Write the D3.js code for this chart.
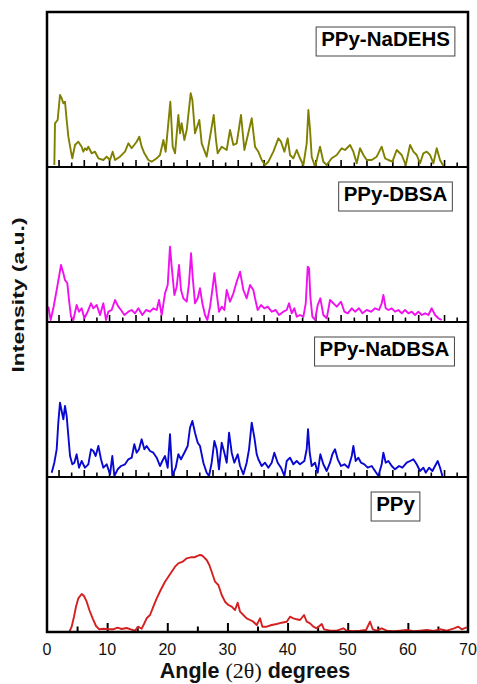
<!DOCTYPE html>
<html><head><meta charset="utf-8">
<script src="https://cdn.jsdelivr.net/npm/d3@7"></script>
<style>body{margin:0;background:#fff}</style>
</head><body>
<svg id="chart" width="477" height="684"></svg>
<script>
// ---------------- DATA ----------------
const seriesNames = ["PPy-NaDEHS", "PPy-DBSA", "PPy-NaDBSA", "PPy"];

// [2θ (deg), intensity (a.u.)]
const ppyNaDEHS = [[1.22,2],[1.33,43.7],[1.77,47],[2.16,72],[2.44,68.7],[2.72,63.7],[2.99,65.3],[3.27,47],[3.55,30.3],[3.99,15.3],[4.21,8.7],[4.66,22],[5.21,25.3],[5.76,20.3],[6.04,15.3],[6.32,18.7],[6.6,17],[6.87,20.3],[7.43,13.7],[7.98,15.3],[8.54,8.7],[9.37,7],[9.92,10.3],[10.48,7],[10.92,15.3],[11.31,7],[12.14,10.3],[12.97,15.3],[13.53,23.7],[14.08,18.7],[14.91,25.3],[15.35,30.3],[15.74,20.3],[16.19,13.7],[16.85,7],[17.41,5.3],[18.24,8.7],[18.79,12],[19.35,27],[19.73,15.3],[20.51,65.3],[20.9,20.3],[21.29,13.7],[21.84,52],[22.12,33.7],[22.39,43.7],[22.84,27],[23.23,37],[23.89,73.7],[24.17,67],[24.61,33.7],[25.33,47],[25.72,23.7],[26.55,10.3],[27.72,52],[28.1,27],[28.38,13.7],[29.05,20.3],[29.88,17],[30.43,37],[30.99,22],[31.54,23.7],[32.26,52],[32.82,17],[34.04,48.7],[34.59,20.3],[35.14,15.3],[35.7,7],[36.25,2],[36.81,5.3],[37.64,15.3],[38.47,28.7],[38.91,25.3],[39.47,15.3],[40.02,28.7],[40.41,12],[40.96,8.7],[41.52,17],[42.07,8.7],[42.63,2],[43.18,23.7],[43.46,57],[43.74,37],[44.01,10.3],[44.57,0.3],[45.4,20.3],[45.95,5.3],[46.51,2],[47.34,8.7],[48.17,12],[49.0,18.7],[49.56,17],[50.39,22],[50.94,15.3],[51.5,3.7],[52.05,18.7],[52.61,12],[53.16,7],[53.99,7],[54.82,10.3],[55.65,20.3],[56.21,8.7],[56.76,7],[57.43,5.3],[58.15,17],[58.98,12],[59.65,2],[60.37,22],[60.92,15.3],[61.47,12],[62.03,3.7],[62.58,13.7],[63.14,15.3],[63.69,12],[64.25,3.7],[64.8,18.7],[65.35,7],[65.91,1]];

const ppyDBSA = [[0.22,15.3],[0.61,2],[1.05,13.7],[1.61,32],[2.0,45.3],[2.33,57],[2.72,48.7],[2.99,42],[3.38,38.7],[3.66,22],[3.99,5.3],[4.38,2],[4.93,17],[5.32,10.3],[5.76,13.7],[6.21,3.7],[6.76,10.3],[7.32,18.7],[7.71,13.7],[8.26,17],[8.82,7],[9.37,18.7],[9.81,2],[10.2,10.3],[10.75,12],[11.31,22],[11.86,15.3],[12.31,12],[12.86,7],[13.53,10.3],[14.08,12],[14.63,8.7],[15.19,13.7],[15.85,7],[16.46,12],[17.13,10.3],[17.68,13.7],[18.24,12],[18.63,22],[19.07,7],[19.62,28.7],[20.07,37],[20.45,75.3],[20.73,55.3],[21.18,27],[21.57,35.3],[21.95,57],[22.28,32],[22.67,23.7],[23.23,20.3],[23.61,38.7],[23.95,68.7],[24.22,45.3],[24.61,18.7],[25.06,23.7],[25.44,33.7],[25.83,18.7],[26.27,7],[26.66,2],[27.11,15.3],[27.49,32],[27.83,48.7],[28.22,28.7],[28.6,10.3],[29.05,15.3],[29.49,12],[29.88,32],[30.43,20.3],[30.99,28.7],[31.54,40.3],[32.1,50.3],[32.65,32],[33.2,23.7],[33.76,37],[34.31,32],[34.59,23.7],[35.03,12],[35.59,17],[36.14,13.7],[36.7,15.3],[37.36,10.3],[38.03,12],[38.58,7],[39.3,10.3],[39.86,12],[40.24,18.7],[40.69,8.7],[41.13,13.7],[41.52,5.3],[42.07,7],[42.63,5.3],[43.02,18.7],[43.35,55.3],[43.57,53.7],[43.79,25.3],[44.12,5.3],[44.57,2],[45.01,17],[45.45,23.7],[45.95,7],[46.51,3.7],[47.06,22],[47.62,18.7],[48.17,15.3],[48.89,20.3],[49.45,10.3],[50.0,8.7],[50.67,13.7],[51.22,10.3],[51.88,13.7],[52.44,8.7],[53.16,12],[53.88,10.3],[54.55,13.7],[55.2,12],[55.65,18.7],[55.93,27],[56.32,13.7],[56.76,12],[57.32,13.7],[57.87,10.3],[58.43,12],[58.98,8.7],[59.53,12],[60.09,8.7],[60.64,10.3],[61.2,7],[61.75,10.3],[62.31,7],[62.86,8.7],[63.41,7],[63.97,13.7],[64.52,7],[65.08,3.7],[65.63,2]];

const ppyNaDBSA = [[0.78,4.3],[1.22,14.3],[1.61,27.7],[1.88,54.3],[2.16,74.3],[2.44,66],[2.72,57.7],[2.99,71],[3.27,61],[3.55,41],[3.83,21],[4.21,12.7],[4.55,14.3],[4.93,22.7],[5.32,9.3],[5.76,16],[6.32,9.3],[6.87,12.7],[7.32,27.7],[7.71,26],[8.09,21],[8.54,31],[8.98,17.7],[9.37,9.3],[9.92,12.7],[10.48,2.7],[10.86,21],[11.2,1],[11.75,7.7],[12.31,11],[12.97,12.7],[13.53,17.7],[14.08,19.3],[14.52,32.7],[14.91,24.3],[15.3,27.7],[15.74,37.7],[16.19,27.7],[16.57,31],[17.13,26],[17.68,24.3],[18.24,19.3],[18.79,11],[19.18,16],[19.62,21],[20.07,9.3],[20.45,42.7],[20.84,1],[21.4,9.3],[21.84,22.7],[22.28,17.7],[22.84,24.3],[23.39,31],[23.78,49.3],[24.17,56],[24.61,44.3],[25.06,34.3],[25.44,31],[26.0,14.3],[26.55,4.3],[26.94,1],[27.38,14.3],[27.83,36],[28.22,27.7],[28.6,7.7],[29.05,34.3],[29.49,24.3],[29.88,14.3],[30.27,44.3],[30.71,24.3],[31.15,14.3],[31.71,22.7],[32.1,11],[32.65,2.7],[33.2,14.3],[33.59,27.7],[34.04,54.3],[34.48,39.3],[34.87,22.7],[35.14,17.7],[35.7,11],[36.25,14.3],[36.81,9.3],[37.36,14.3],[37.8,24.3],[38.36,14.3],[38.91,9.3],[39.47,1],[39.86,16],[40.41,19.3],[40.96,12.7],[41.52,16],[42.07,12.7],[42.79,16],[43.18,27.7],[43.4,47.7],[43.68,24.3],[44.01,11],[44.57,14.3],[45.01,4.3],[45.45,22.7],[45.95,12.7],[46.51,6],[47.06,14.3],[47.45,22.7],[47.89,27.7],[48.34,17.7],[48.89,11],[49.45,12.7],[50.11,9.3],[50.67,21],[50.94,31],[51.33,16],[51.77,19.3],[52.22,14.3],[52.77,12.7],[53.33,9.3],[53.99,11],[54.55,6],[55.1,1],[55.65,12.7],[55.93,24.3],[56.32,14.3],[56.76,16],[57.32,11],[57.87,7.7],[58.54,11],[59.09,9.3],[59.81,14.3],[60.37,16],[60.92,17.7],[61.47,12.7],[62.03,6],[62.58,9.3],[62.97,4.3],[63.53,9.3],[64.08,6],[64.52,11],[64.97,16],[65.36,9.3],[65.74,1]];

const ppy = [[3.71,0],[4.1,5.3],[4.49,15.3],[4.82,25.3],[5.21,33.7],[5.76,38],[6.15,36],[6.6,30.3],[7.04,22],[7.59,13.7],[8.15,6],[8.7,2.7],[9.37,3.3],[10.2,2.7],[11.03,2.7],[11.7,4.3],[12.42,3],[13.25,4],[13.91,2.7],[14.63,1.3],[15.19,5.3],[15.74,3.3],[16.13,8],[16.57,13.7],[17.13,17],[17.68,25.3],[18.24,33.7],[18.9,42],[19.62,50.3],[20.18,55.3],[20.73,60.3],[21.29,65.3],[21.84,68.7],[22.56,70.3],[23.23,73.7],[23.89,74.7],[24.45,74.7],[25.0,76],[25.33,77],[25.72,76.7],[26.11,74.7],[26.55,72],[26.99,67],[27.38,60.3],[27.94,50.3],[28.49,47],[29.05,37],[29.6,30.3],[30.16,27],[30.71,25.3],[31.26,22],[31.71,29.3],[32.1,20.3],[32.65,17],[33.2,13.7],[33.76,12],[34.31,10.3],[34.87,7],[35.42,13.7],[35.81,5.3],[36.53,5.3],[37.36,7],[38.19,8],[39.02,9.3],[39.86,10.3],[40.41,15.3],[40.96,13.7],[41.52,12.7],[42.07,12],[42.74,17],[43.18,10.3],[43.74,8.7],[44.29,5.3],[44.85,3.7],[45.68,8],[46.07,2.7],[47.06,1.3],[48.17,1.3],[49.28,3.7],[49.83,1.3],[50.94,0.7],[52.05,1.3],[53.05,2],[53.71,10.3],[54.16,2.7],[54.82,1.3],[55.65,3.7],[56.49,1.3],[57.59,0.7],[58.7,1.3],[59.81,2],[60.92,0.7],[62.03,1.3],[63.14,2],[64.25,1],[65.35,2.7],[66.46,1.3],[67.57,3.3],[68.4,5.3],[68.96,2.7],[69.79,4.7]];

const xTickLabels = [0, 10, 20, 30, 40, 50, 60, 70];
const xMajorTicks = [10, 20, 30, 40, 50, 60];
const xMinorTicks = [5, 15, 25, 35, 45, 55, 65];
const upperPanelTicks = [2.0,4.1,6.2,8.3,10.4,12.6,14.8,16.9,19.0,21.1,23.3,25.4,27.6,29.7,31.8,34.0,36.1,38.3,40.4,42.5,44.7,46.8,48.9,51.1,53.2,55.3,57.5,59.6,61.8,63.9,66.1,68.2];

// ---------------- LAYOUT / STYLE ----------------
const seriesData = [ppyNaDEHS, ppyDBSA, ppyNaDBSA, ppy];
const colors = ["#808000", "#f010f0", "#0808d0", "#d42020"];
const legendCenters = [385.5, 395.5, 384.5, 395.5];
const L = 47, R = 468, T = 12, PH = 155;
const sansBold = "'Liberation Sans', Arial, sans-serif";

const svg = d3.select("#chart");
const x = d3.scaleLinear().domain([0, 70]).range([L, R]);

seriesNames.forEach((name, i) => {
  const top = T + i * PH, bottom = top + PH;
  const y = d3.scaleLinear().domain([0, 155]).range([bottom, top]);
  const g = svg.append("g");

  // ticks
  if (i < 3) {
    g.selectAll("line.tk").data(upperPanelTicks).join("line")
      .attr("x1", d => x(d)).attr("x2", d => x(d))
      .attr("y1", bottom).attr("y2", (d, k) => bottom - (k % 2 === 0 ? 7 : 4.5))
      .attr("stroke", "#000").attr("stroke-width", 1.6);
  } else {
    const axis = d3.axisBottom(x).tickValues(xMajorTicks.concat(xMinorTicks))
      .tickSizeInner(0).tickSizeOuter(0).tickFormat("");
    const ag = g.append("g").attr("transform", `translate(0,${bottom})`).call(axis);
    ag.select(".domain").remove();
    ag.selectAll(".tick line")
      .attr("y2", d => xMajorTicks.includes(d) ? -9 : -5.5)
      .attr("stroke", "#000").attr("stroke-width", 2);
  }

  const line = d3.line().x(d => x(d[0])).y(d => y(d[1]));
  g.append("path").datum(seriesData[i])
    .attr("d", line).attr("fill", "none")
    .attr("stroke", colors[i]).attr("stroke-width", 1.9)
    .attr("stroke-linejoin", "round");

  // panel divider
  if (i < 3) {
    g.append("line").attr("x1", L).attr("x2", R).attr("y1", bottom).attr("y2", bottom)
      .attr("stroke", "#000").attr("stroke-width", 2.2);
  }

  // legend box
  const lg = svg.append("g");
  const t = lg.append("text").text(name)
    .attr("x", legendCenters[i]).attr("y", top + 34)
    .attr("text-anchor", "middle")
    .attr("font-family", sansBold).attr("font-weight", "bold")
    .attr("font-size", 20.5).attr("fill", "#000");
  const w = t.node().getComputedTextLength();
  lg.insert("rect", "text")
    .attr("x", legendCenters[i] - w / 2 - 5).attr("y", top + 15)
    .attr("width", w + 10).attr("height", 29)
    .attr("fill", "#fff").attr("stroke", "#444").attr("stroke-width", 1);
});

// outer frame
svg.append("rect").attr("x", L).attr("y", T).attr("width", R - L).attr("height", 4 * PH)
  .attr("fill", "none").attr("stroke", "#000").attr("stroke-width", 2.5);

// bottom tick labels
svg.append("g").selectAll("text").data(xTickLabels).join("text")
  .attr("x", d => x(d)).attr("y", 655)
  .attr("text-anchor", "middle")
  .attr("font-family", "'Liberation Sans', Arial, sans-serif")
  .attr("font-size", 16).attr("fill", "#111")
  .text(d => d);

// x axis title
const xt = svg.append("text").attr("x", 255).attr("y", 678).attr("text-anchor", "middle")
  .attr("font-family", sansBold).attr("font-weight", "bold").attr("font-size", 21.5).attr("fill", "#111");
xt.append("tspan").text("Angle ");
xt.append("tspan").attr("font-family", "'Liberation Serif', 'Times New Roman', serif")
  .attr("font-weight", "normal").attr("font-size", 22).text("(2θ)");
xt.append("tspan").text(" degrees");

// y axis title
svg.append("text")
  .attr("transform", "translate(24,295) rotate(-90) scale(1.43,1)")
  .attr("text-anchor", "middle")
  .attr("font-family", sansBold).attr("font-weight", "bold").attr("font-size", 16)
  .attr("fill", "#111")
  .text("Intensity (a.u.)");
</script>
</body></html>
